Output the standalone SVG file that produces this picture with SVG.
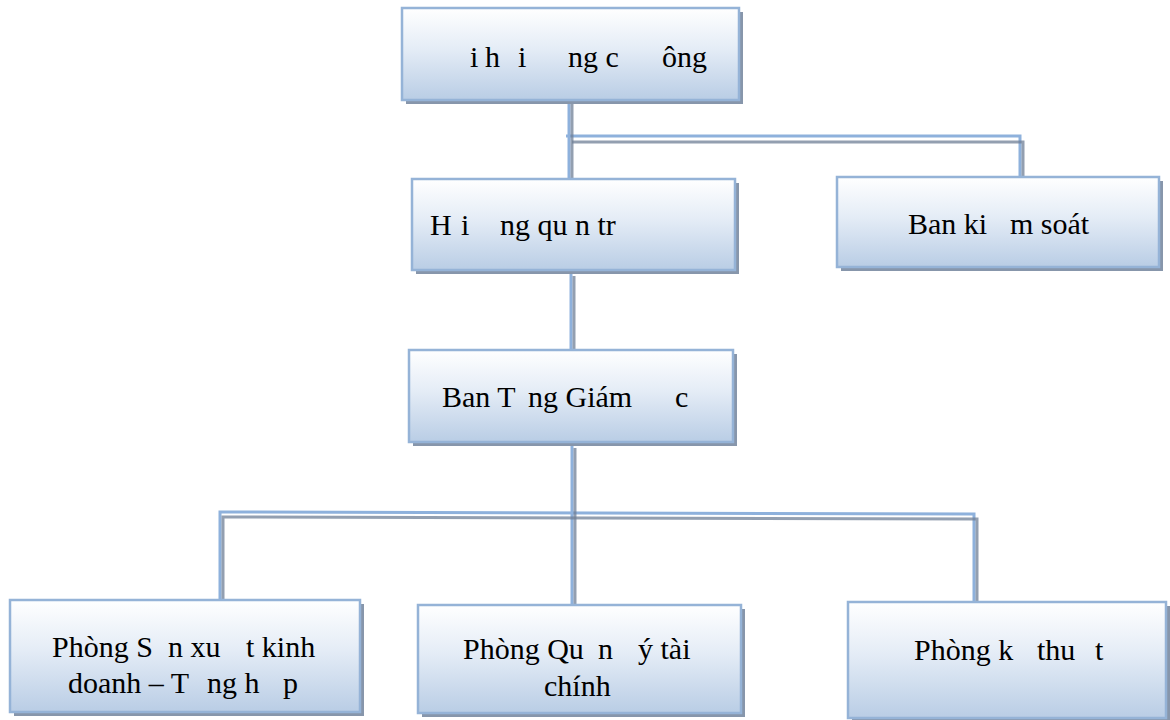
<svg xmlns="http://www.w3.org/2000/svg" width="1170" height="720" viewBox="0 0 1170 720">
  <defs>
    <linearGradient id="boxFill" x1="0" y1="0" x2="0" y2="1">
      <stop offset="0" stop-color="#ffffff"/>
      <stop offset="0.45" stop-color="#e4ecf6"/>
      <stop offset="1" stop-color="#b9cde5"/>
    </linearGradient>
    <style>
      .shadow { fill: #8796ab; }
      .box { fill: url(#boxFill); stroke: #95b3d7; stroke-width: 2.5; }
      .lbl { font-family: "Liberation Serif", "Times New Roman", serif; font-size: 30px; fill: #000000; }
      .wire { fill: none; stroke: #8eb1dc; stroke-width: 3; }
      .wireShadow { fill: none; stroke: #6f7f96; stroke-width: 3; stroke-opacity: 0.75; }
    </style>
  </defs>
  <rect width="1170" height="720" fill="#ffffff"/>

  <g id="connectors">
    <polyline class="wire" points="569,100 569,178"/>
    <polyline class="wire" points="566,136 1020,136 1020,177"/>
    <polyline class="wire" points="571,274 571,350"/>
    <polyline class="wire" points="572,446 572,605"/>
    <polyline class="wire" points="220,600 220,512 974,514 974,603"/>
    <polyline class="wireShadow" points="572,104 572,180"/>
    <polyline class="wireShadow" points="572,142 1023,142 1023,182"/>
    <polyline class="wireShadow" points="574,276 574,350"/>
    <polyline class="wireShadow" points="575,448 575,608"/>
    <polyline class="wireShadow" points="223,603 223,517 977,519 977,608"/>
  </g>

  <g id="node-dhdcd">
    <rect class="shadow" x="406" y="12" width="337" height="92"/>
    <rect class="box" x="402" y="8" width="337" height="92"/>
    <text class="lbl" y="67"><tspan x="470">i</tspan><tspan x="485">h</tspan><tspan x="518">i</tspan><tspan x="568">ng c</tspan><tspan x="662">ông</tspan></text>
  </g>

  <g id="node-hdqt">
    <rect class="shadow" x="416" y="183" width="323" height="91"/>
    <rect class="box" x="412" y="179" width="323" height="91"/>
    <text class="lbl" y="235"><tspan x="430">H</tspan><tspan x="461">i</tspan><tspan x="500">ng qu</tspan><tspan x="575">n tr</tspan></text>
  </g>

  <g id="node-bks">
    <rect class="shadow" x="841" y="181" width="322" height="90"/>
    <rect class="box" x="837" y="177" width="322" height="90"/>
    <text class="lbl" y="234"><tspan x="908">Ban ki</tspan><tspan x="1010">m soát</tspan></text>
  </g>

  <g id="node-btgd">
    <rect class="shadow" x="413" y="354" width="324" height="92"/>
    <rect class="box" x="409" y="350" width="324" height="92"/>
    <text class="lbl" y="407"><tspan x="442">Ban T</tspan><tspan x="528">ng Giám</tspan><tspan x="675">c</tspan></text>
  </g>

  <g id="node-sxkd">
    <rect class="shadow" x="14" y="604" width="350" height="112"/>
    <rect class="box" x="10" y="600" width="350" height="112"/>
    <text class="lbl" y="657"><tspan x="52">Phòng S</tspan><tspan x="168">n xu</tspan><tspan x="246">t kinh</tspan></text>
    <text class="lbl" y="693"><tspan x="68">doanh – T</tspan><tspan x="207">ng h</tspan><tspan x="283">p</tspan></text>
  </g>

  <g id="node-qltc">
    <rect class="shadow" x="422" y="609" width="323" height="108"/>
    <rect class="box" x="418" y="605" width="323" height="108"/>
    <text class="lbl" y="659"><tspan x="463">Phòng Qu</tspan><tspan x="598">n</tspan><tspan x="638">ý tài</tspan></text>
    <text class="lbl" y="696" x="544">chính</text>
  </g>

  <g id="node-kt">
    <rect class="shadow" x="852" y="606" width="318" height="116"/>
    <rect class="box" x="848" y="602" width="318" height="116"/>
    <text class="lbl" y="660"><tspan x="914">Phòng k</tspan><tspan x="1037">thu</tspan><tspan x="1095">t</tspan></text>
  </g>
</svg>
